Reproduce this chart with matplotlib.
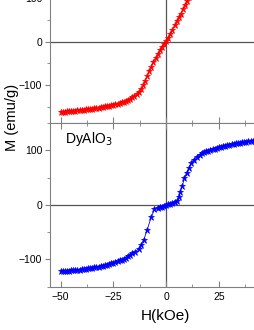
import matplotlib
matplotlib.use("Agg")
import matplotlib.pyplot as plt
from matplotlib.ticker import MultipleLocator

plt.rcParams["font.family"] = ["Liberation Sans", "DejaVu Sans"]

# --- data (H in kOe, M in emu/g) ------------------------------------------
# upper panel (red)
H_top = [-50, -49, -48, -47, -46, -45, -44, -43, -42, -41,
         -40, -39, -38, -37, -36, -35, -34, -33, -32, -31,
         -30, -29, -28, -27, -26, -25, -24, -23, -22, -21,
         -20, -19, -18, -17, -16, -15, -14, -13, -12, -11,
         -10, -9, -8, -7, -6, -5, -4, -3, -2, -1,
         0, 1, 2, 3, 4, 5, 6, 7, 8, 9,
         10, 11, 12, 13, 14, 15, 16, 17, 18, 19,
         20, 22, 24, 26, 28, 30, 32, 34, 36, 38,
         40, 42, 44, 46, 48, 50]
M_top = [-162.0, -161.7, -161.3, -160.9, -160.5, -160.1, -159.7, -159.2, -158.8, -158.3,
         -157.8, -157.2, -156.6, -155.9, -155.2, -154.5, -153.7, -152.9, -152.0, -151.2,
         -150.3, -149.4, -148.5, -147.5, -146.5, -145.6, -144.6, -143.3, -142.0, -140.3,
         -138.5, -136.5, -134.0, -131.5, -128.5, -125.0, -121.0, -116.0, -110.0, -101.0,
         -90.0, -79.0, -68.0, -58.0, -47.0, -37.0, -28.0, -19.5, -12.0, -5.0,
         1.0, 9.0, 18.0, 28.0, 38.0, 48.0, 57.0, 65.0, 75.0, 85.0,
         95.0, 104.0, 112.0, 119.0, 124.0, 128.0, 131.0, 134.0, 136.5, 139.0,
         141.0, 144.5, 147.5, 150.0, 152.0, 154.0, 155.5, 157.0, 158.5, 159.5,
         160.5, 161.5, 162.0, 162.5, 163.0, 163.5]

# lower panel (blue, DyAlO3)
H_bot = [-50, -49, -48, -47, -46, -45, -44, -43, -42, -41,
         -40, -39, -38, -37, -36, -35, -34, -33, -32, -31,
         -30, -29, -28, -27, -26, -25, -24, -23, -22, -21,
         -20, -19, -18, -17, -16, -14.5, -13, -11.8, -10.6, -9,
         -7.1, -5.5, -4, -3, -2, -1, 0, 1, 2, 3,
         4, 5, 6, 6.8, 7.6, 8.7, 9.7, 10.7, 12, 13,
         14.5, 16, 17, 18, 19, 20, 21, 22, 23, 24,
         25, 26, 27, 28, 29, 30, 31, 32, 33, 34,
         35, 36, 37, 38, 39, 40, 41, 42, 43, 44,
         45, 46, 47, 48, 49, 50]
M_bot = [-121.5, -121.2, -120.9, -120.6, -120.3, -120.0, -119.6, -119.2, -118.8, -118.4,
         -118.0, -117.4, -116.8, -116.2, -115.6, -115.0, -114.4, -113.8, -113.2, -112.6,
         -112.0, -110.8, -109.6, -108.4, -107.2, -106.0, -104.6, -103.2, -101.8, -100.4,
         -99.0, -96.5, -94.0, -91.5, -89.0, -86.0, -80.0, -73.0, -64.0, -46.0,
         -23.0, -8.0, -5.0, -4.0, -3.0, -1.5, 0.0, 1.5, 2.5, 4.0,
         5.5, 8.0, 15.0, 24.0, 34.0, 49.0, 59.0, 67.0, 76.0, 83.0,
         88.0, 92.0, 94.5, 96.5, 98.0, 99.5, 100.8, 102.0, 103.2, 104.5,
         105.8, 106.8, 107.8, 108.8, 109.6, 110.4, 111.2, 112.0, 112.8, 113.5,
         114.2, 114.8, 115.4, 116.0, 116.5, 117.0, 117.4, 117.8, 118.2, 118.6,
         119.0, 119.4, 119.8, 120.2, 120.6, 121.0]

# right end sits just past the picture edge, as in the cropped original
X_LIM = (-55, 45)
TOP_YLIM = (-188, 200)
BOT_YLIM = (-150, 150)
SPINE = "#808080"


def _style(ax, show_xlabels):
    for s in ax.spines.values():
        s.set_color(SPINE)
        s.set_linewidth(0.8)
    ax.axhline(0, color="#555555", lw=0.9, zorder=1)
    ax.axvline(0, color="#555555", lw=0.9, zorder=1)
    ax.set_xlim(*X_LIM)
    ax.xaxis.set_major_locator(MultipleLocator(25))
    ax.xaxis.set_minor_locator(MultipleLocator(12.5))
    ax.yaxis.set_major_locator(MultipleLocator(100))
    ax.yaxis.set_minor_locator(MultipleLocator(50))
    ax.tick_params(axis="x", which="both", direction="in", top=True, bottom=True,
                   color=SPINE, labelsize=7.5, labelbottom=show_xlabels, pad=4)
    ax.tick_params(axis="x", which="major", length=4)
    ax.tick_params(axis="x", which="minor", length=2.5)
    ax.tick_params(axis="y", which="both", direction="out", color=SPINE,
                   labelsize=7.5, pad=2)
    ax.tick_params(axis="y", which="major", length=3.5)
    ax.tick_params(axis="y", which="minor", length=2)


fig = plt.figure(figsize=(2.55, 3.3), dpi=100)
ax_top = fig.add_axes([0.196, 0.627, 0.828, 0.509])
ax_bot = fig.add_axes([0.196, 0.131, 0.828, 0.496])

ax_top.plot(H_top, M_top, color="red", lw=0.6, marker="*", ms=5,
            mec="red", mew=0.5, zorder=3)
ax_top.set_ylim(*TOP_YLIM)
_style(ax_top, False)

ax_bot.plot(H_bot, M_bot, color="blue", lw=0.6, marker="*", ms=5,
            mec="blue", mew=0.5, zorder=3)
ax_bot.set_ylim(*BOT_YLIM)
_style(ax_bot, True)

fig.text(65 / 255, 1 - 143.5 / 330, r"DyAlO$_3$", fontsize=10, va="baseline")
fig.text(165 / 255, 1 - 316 / 330, "H(kOe)", fontsize=11, ha="center", va="center")
fig.text(12 / 255, 1 - 117 / 330, "M (emu/g)", fontsize=10.5, rotation=90,
         ha="center", va="center")

fig.savefig("out.png", dpi=100)
